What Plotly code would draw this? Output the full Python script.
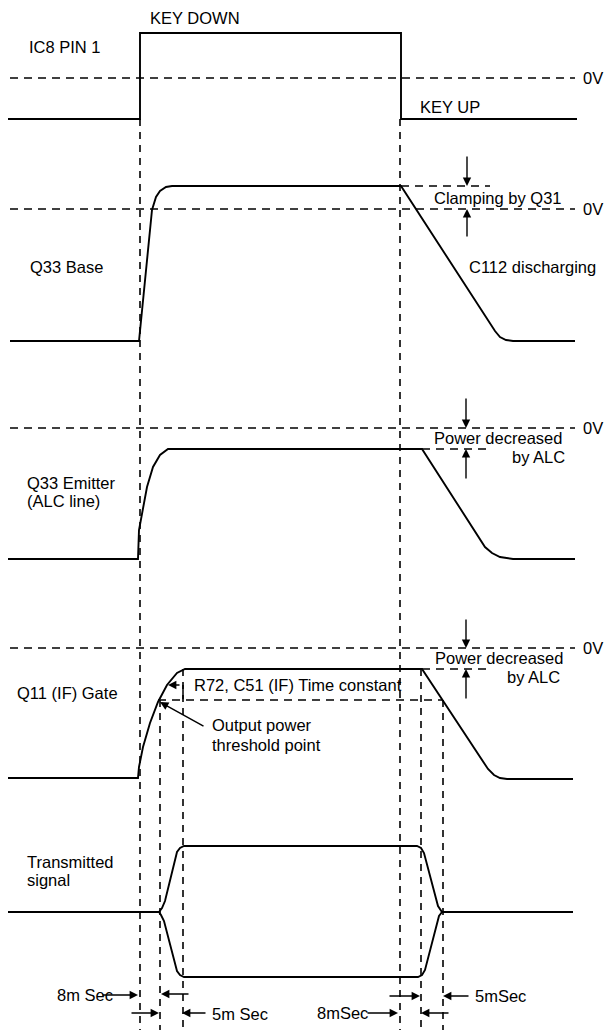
import plotly.graph_objects as go

# ---------------- data (diagram time units on x, signal level on y) ----------------
ic8_t = [8, 140, 140, 401, 401, 577]
ic8_v = [119, 119, 33, 33, 119, 119]

q33b_t = [10, 139, 152, 156, 160, 166, 172, 401, 495, 500, 506, 513, 575]
q33b_v = [341, 341, 210, 197, 191, 187, 186, 186, 331, 337, 340, 341, 341]

q33e_t = [8, 138, 139, 142, 147, 153, 160, 168, 422, 485, 492, 500, 513, 575]
q33e_v = [559, 559, 530, 513, 487, 467, 455, 449, 449, 547, 553, 557, 559, 559]

q11_t = [8, 138, 139, 143, 150, 158, 167, 177, 185, 422, 488, 494, 500, 507, 573]
q11_v = [778, 778, 767, 747, 723, 702, 685, 673, 669, 669, 769, 775, 778, 779, 779]

tx_upper_t = [8, 159, 162, 165, 177, 180, 184, 417, 421, 424, 438, 442, 573]
tx_upper_v = [912, 912, 908, 901, 852, 848, 846, 846, 848, 853, 906, 912, 912]
tx_lower_t = [159, 161, 164, 177, 180, 184, 418, 422, 425, 439, 442]
tx_lower_v = [912, 915, 921, 971, 975, 977, 977, 975, 970, 916, 912]

zero_levels = [78, 209, 428, 648]
zero_span = [10, 575]

guide_t = [140, 160, 183, 400, 421, 443]
guide_top = [119, 700, 669, 119, 669, 700]
guide_bottom = 1030

# short dashed reference levels: (level, start, end)
ref_level = [186, 449, 669, 700]
ref_start = [401, 422, 422, 158]
ref_end = [490, 487, 487, 443]

# vertical arrow pairs: x, tail, head
varrow_x = [467, 467, 466, 466, 466, 466]
varrow_tail = [155, 238, 397, 480, 618, 700]
varrow_head = [186, 209, 428, 449, 648, 669]

# horizontal dimension arrows: y, tail, head
harrow_y = [995, 1013, 994, 1013, 996, 996, 1013, 1013, 685]
harrow_tail = [101, 130, 190, 207, 388, 470, 366, 450, 181]
harrow_head = [138, 159, 161, 182, 420, 443, 398, 421, 168]

labels = ["KEY DOWN", "IC8 PIN 1", "KEY UP", "0V",
          "Clamping by Q31", "0V", "C112 discharging", "Q33 Base",
          "Q33 Emitter", "(ALC line)", "Power decreased", "by ALC", "0V",
          "Q11 (IF) Gate", "R72, C51 (IF) Time constant", "Output power", "threshold point",
          "Power decreased", "by ALC", "0V",
          "Transmitted", "signal", "8m Sec", "5m Sec", "8mSec", "5mSec"]
label_x = [148, 27, 418, 581, 432, 581, 467, 28, 25, 25, 432, 510, 581,
           15, 192, 210, 210, 433, 505, 581, 25, 25, 55, 210, 315, 473]
label_y = [18, 47, 107, 78, 198, 209, 267, 267, 483, 501, 438, 457, 428,
           693, 685, 725, 745, 658, 677, 648, 862, 880, 995, 1014, 1013, 996]

# ---------------- figure ----------------
fig = go.Figure()
solid = dict(color="black", width=1.9)
dashed = dict(color="black", width=1.5, dash="8px,6px")

for t, v in [(ic8_t, ic8_v), (q33b_t, q33b_v), (q33e_t, q33e_v), (q11_t, q11_v),
             (tx_upper_t, tx_upper_v), (tx_lower_t, tx_lower_v)]:
    fig.add_trace(go.Scatter(x=t, y=v, mode="lines", line=solid, hoverinfo="skip"))

for lv in zero_levels:
    fig.add_trace(go.Scatter(x=zero_span, y=[lv, lv], mode="lines", line=dashed, hoverinfo="skip"))

for gx, gt in zip(guide_t, guide_top):
    fig.add_trace(go.Scatter(x=[gx, gx], y=[gt, guide_bottom], mode="lines",
                             line=dict(color="black", width=1.6, dash="7px,6px"), hoverinfo="skip"))

for lv, s, e in zip(ref_level, ref_start, ref_end):
    fig.add_trace(go.Scatter(x=[s, e], y=[lv, lv], mode="lines", line=dashed, hoverinfo="skip"))

# time-constant marker tick
fig.add_trace(go.Scatter(x=[183, 183], y=[685, 699], mode="lines",
                         line=dict(color="black", width=1.5), hoverinfo="skip"))

annotations = []
for x, t, h in zip(varrow_x, varrow_tail, varrow_head):
    annotations.append(dict(x=x, y=h, ax=x, ay=t, xref="x", yref="y", axref="x", ayref="y",
                            text="", showarrow=True, arrowhead=2, arrowsize=1.2,
                            arrowwidth=1.4, arrowcolor="black"))
for y, t, h in zip(harrow_y, harrow_tail, harrow_head):
    annotations.append(dict(x=h, y=y, ax=t, ay=y, xref="x", yref="y", axref="x", ayref="y",
                            text="", showarrow=True, arrowhead=2, arrowsize=1.2,
                            arrowwidth=1.4, arrowcolor="black"))
# threshold pointer
annotations.append(dict(x=160, y=702, ax=205, ay=727, xref="x", yref="y", axref="x", ayref="y",
                        text="", showarrow=True, arrowhead=2, arrowsize=1.2,
                        arrowwidth=1.4, arrowcolor="black"))
for txt, x, y in zip(labels, label_x, label_y):
    annotations.append(dict(x=x, y=y, xref="x", yref="y", text=txt, showarrow=False,
                            xanchor="left", yanchor="middle",
                            font=dict(family="Liberation Sans, Arial, sans-serif", size=16.5,
                                      color="black")))

fig.update_layout(
    width=607, height=1032,
    margin=dict(l=0, r=0, t=0, b=0),
    paper_bgcolor="white", plot_bgcolor="white",
    showlegend=False,
    xaxis=dict(range=[0, 607], visible=False, fixedrange=True),
    yaxis=dict(range=[1032, 0], visible=False, fixedrange=True),
    annotations=annotations,
)

# remove the default page margin so the 607x1032 figure fills the window exactly
fig.write_html("out.html", config={"displayModeBar": False},
               default_width="607px", default_height="1032px",
               post_script="document.body.style.margin='0';document.body.style.overflow='hidden';")
